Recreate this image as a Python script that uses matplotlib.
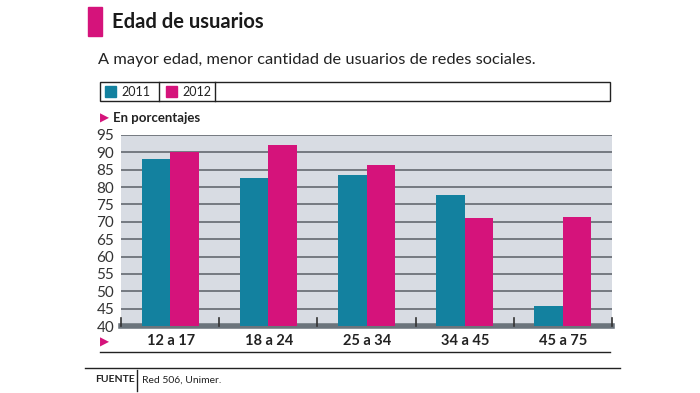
import numpy as np
import matplotlib.pyplot as plt
from matplotlib.patches import Rectangle

# data
categories = ['12 a 17', '18 a 24', '25 a 34', '34 a 45', '45 a 75']
usuarios_2011 = [88.1, 82.6, 83.4, 77.8, 45.9]
usuarios_2012 = [90.0, 92.0, 86.3, 71.2, 71.5]
yticks = [40, 45, 50, 55, 60, 65, 70, 75, 80, 85, 90, 95]

teal = '#13819f'
pink = '#d5137b'
bg = '#d8dce3'
ink = '#222222'

plt.rcParams['font.family'] = ['Lato', 'DejaVu Sans']

fig = plt.figure(figsize=(7, 3.93), dpi=100)
W, H = 700, 393

def fx(px):
    return px / W

def fy(py):
    return 1 - py / H

# main axes
ax = fig.add_axes([fx(121), fy(326), fx(612) - fx(121), fy(135) - fy(326)])
ax.set_facecolor(bg)
x = np.arange(len(categories))
w = 0.29
ax.bar(x - w / 2, usuarios_2011, w, color=teal, zorder=3)
ax.bar(x + w / 2, usuarios_2012, w, color=pink, zorder=3)
ax.set_xlim(-0.5, len(categories) - 0.5)
ax.set_ylim(40, 95)
ax.set_yticks(yticks)
ax.set_yticklabels([str(v) for v in yticks], fontsize=11, color='#333333')
ax.tick_params(axis='y', length=0, pad=5)
ax.set_xticks([])
ax.yaxis.grid(True, color='#5a5f66', linewidth=1.1, zorder=1)
for s in ['top', 'right', 'left']:
    ax.spines[s].set_visible(False)
ax.spines['bottom'].set_color('#6b747c')
ax.spines['bottom'].set_linewidth(4)
# small boundary ticks between groups
for b in np.arange(-0.5, len(categories) + 0.5, 1):
    ax.plot([b, b], [40, 42.3], color='#333333', lw=1.2, zorder=4, clip_on=False)

# category labels below the axis
for i, c in enumerate(categories):
    fig.text(fx(122 + 98 * i + 49), fy(341), c, ha='center', va='center',
             fontsize=10.5, fontweight='bold', color=ink)
fig.text(fx(100), fy(342), '\u25B6', color=pink, fontsize=8.5, ha='left', va='center',
         family=['DejaVu Sans'])
fig.add_artist(plt.Line2D([fx(100), fx(610)], [fy(352), fy(352)], color=ink, lw=1))

# title block
fig.add_artist(Rectangle((fx(88), fy(36)), fx(14), fy(7) - fy(36), color=pink,
                         transform=fig.transFigure))
fig.text(fx(112), fy(22), 'Edad de usuarios', fontsize=14.5, fontweight='bold',
         color='#1a1a1a', va='center', ha='left')
fig.text(fx(98), fy(60), 'A mayor edad, menor cantidad de usuarios de redes sociales.',
         fontsize=11.8, color=ink, va='center', ha='left')

# legend strip
fig.add_artist(Rectangle((fx(100), fy(101)), fx(510), fy(82) - fy(101), facecolor='white',
                         edgecolor=ink, lw=1, transform=fig.transFigure))
for px in [159, 215]:
    fig.add_artist(plt.Line2D([fx(px), fx(px)], [fy(101), fy(82)], color=ink, lw=1))
fig.add_artist(Rectangle((fx(105), fy(97)), fx(11), fy(86) - fy(97), color=teal,
                         transform=fig.transFigure))
fig.text(fx(121), fy(91.5), '2011', fontsize=9, va='center', color=ink)
fig.add_artist(Rectangle((fx(166), fy(97)), fx(11), fy(86) - fy(97), color=pink,
                         transform=fig.transFigure))
fig.text(fx(182), fy(91.5), '2012', fontsize=9, va='center', color=ink)

# unit label
fig.text(fx(100), fy(118), '\u25B6', color=pink, fontsize=8.5, ha='left', va='center',
         family=['DejaVu Sans'])
fig.text(fx(113), fy(118), 'En porcentajes', fontsize=9.5, fontweight='bold',
         color=ink, va='center')

# footer
fig.add_artist(plt.Line2D([fx(85), fx(620)], [fy(368), fy(368)], color=ink, lw=1))
fig.add_artist(plt.Line2D([fx(137), fx(137)], [fy(370), fy(391)], color=ink, lw=1))
fig.text(fx(95), fy(380), 'FUENTE', fontsize=7.5, fontweight='bold', color=ink, va='center')
fig.text(fx(142), fy(380), 'Red 506, Unimer.', fontsize=7.5, color=ink, va='center')

plt.savefig('out.png', dpi=100)
